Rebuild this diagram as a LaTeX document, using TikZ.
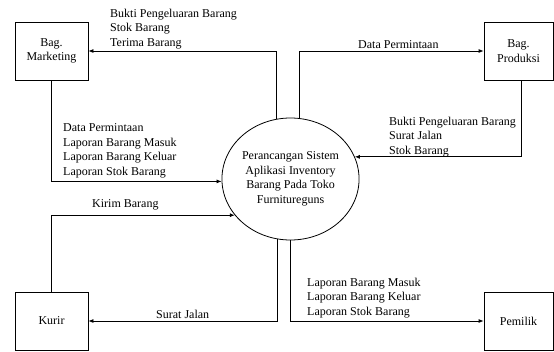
\documentclass[tikz,border=0pt]{standalone}
\usepackage{fontspec}
\setmainfont{Liberation Serif}
\usetikzlibrary{arrows.meta,shapes.geometric}
\begin{document}
\begin{tikzpicture}[x=1pt,y=-1pt,
  every node/.style={font=\fontsize{12}{14.5}\selectfont},
  entity/.style={draw, line width=0.8pt, minimum height=58pt, inner sep=0pt, align=center},
  proc/.style={draw, line width=0.8pt, ellipse, minimum width=117pt, minimum height=122pt, inner sep=0pt, align=center},
  flow/.style={line width=0.8pt, -{Latex[length=5pt,width=4pt]}},
  lbl/.style={anchor=south west, inner sep=0pt, align=left}
]
\useasboundingbox (0,0) rectangle (554,351);
\node[entity, minimum width=73pt] (mkt) at (51.5,51) {Bag.\\Marketing};
\node[entity, minimum width=69pt] (prod) at (518.5,51) {Bag.\\Produksi};
\node[entity, minimum width=73pt] (kurir) at (51.5,321) {Kurir};
\node[entity, minimum width=69pt] (pem) at (518.5,321) {Pemilik};
\node[proc] (ell) at (290.5,179) {Perancangan Sistem\\Aplikasi Inventory\\Barang Pada Toko\\Furnitureguns};

\draw[flow] (ell.103.8) |- (mkt.east);
\draw[flow] (ell.82) |- (prod.west);
\draw[flow] ([xshift=2.5pt]prod.south) |- (ell.19.9);
\draw[flow] (mkt.south) |- (ell.182);
\draw[flow] (kurir.north) |- (ell.213.9);
\draw[flow] (ell.258.2) |- (kurir.east);
\draw[flow] (ell.270) |- (pem.west);

\node[lbl] (l1) at (110,49) {Bukti Pengeluaran Barang\\Stok Barang\\Terima Barang};
\node[lbl] (l2) at (358,49) {Data Permintaan};
\node[lbl] (l3) at (389,157) {Bukti Pengeluaran Barang\\Surat Jalan\\Stok Barang};
\node[lbl] (l4) at (63,178) {Data Permintaan\\Laporan Barang Masuk\\Laporan Barang Keluar\\Laporan Stok Barang};
\node[lbl] (l5) at (92,210) {Kirim Barang};
\node[lbl] (l6) at (156,319) {Surat Jalan};
\node[lbl] (l7) at (307,318) {Laporan Barang Masuk\\Laporan Barang Keluar\\Laporan Stok Barang};
\end{tikzpicture}
\end{document}
